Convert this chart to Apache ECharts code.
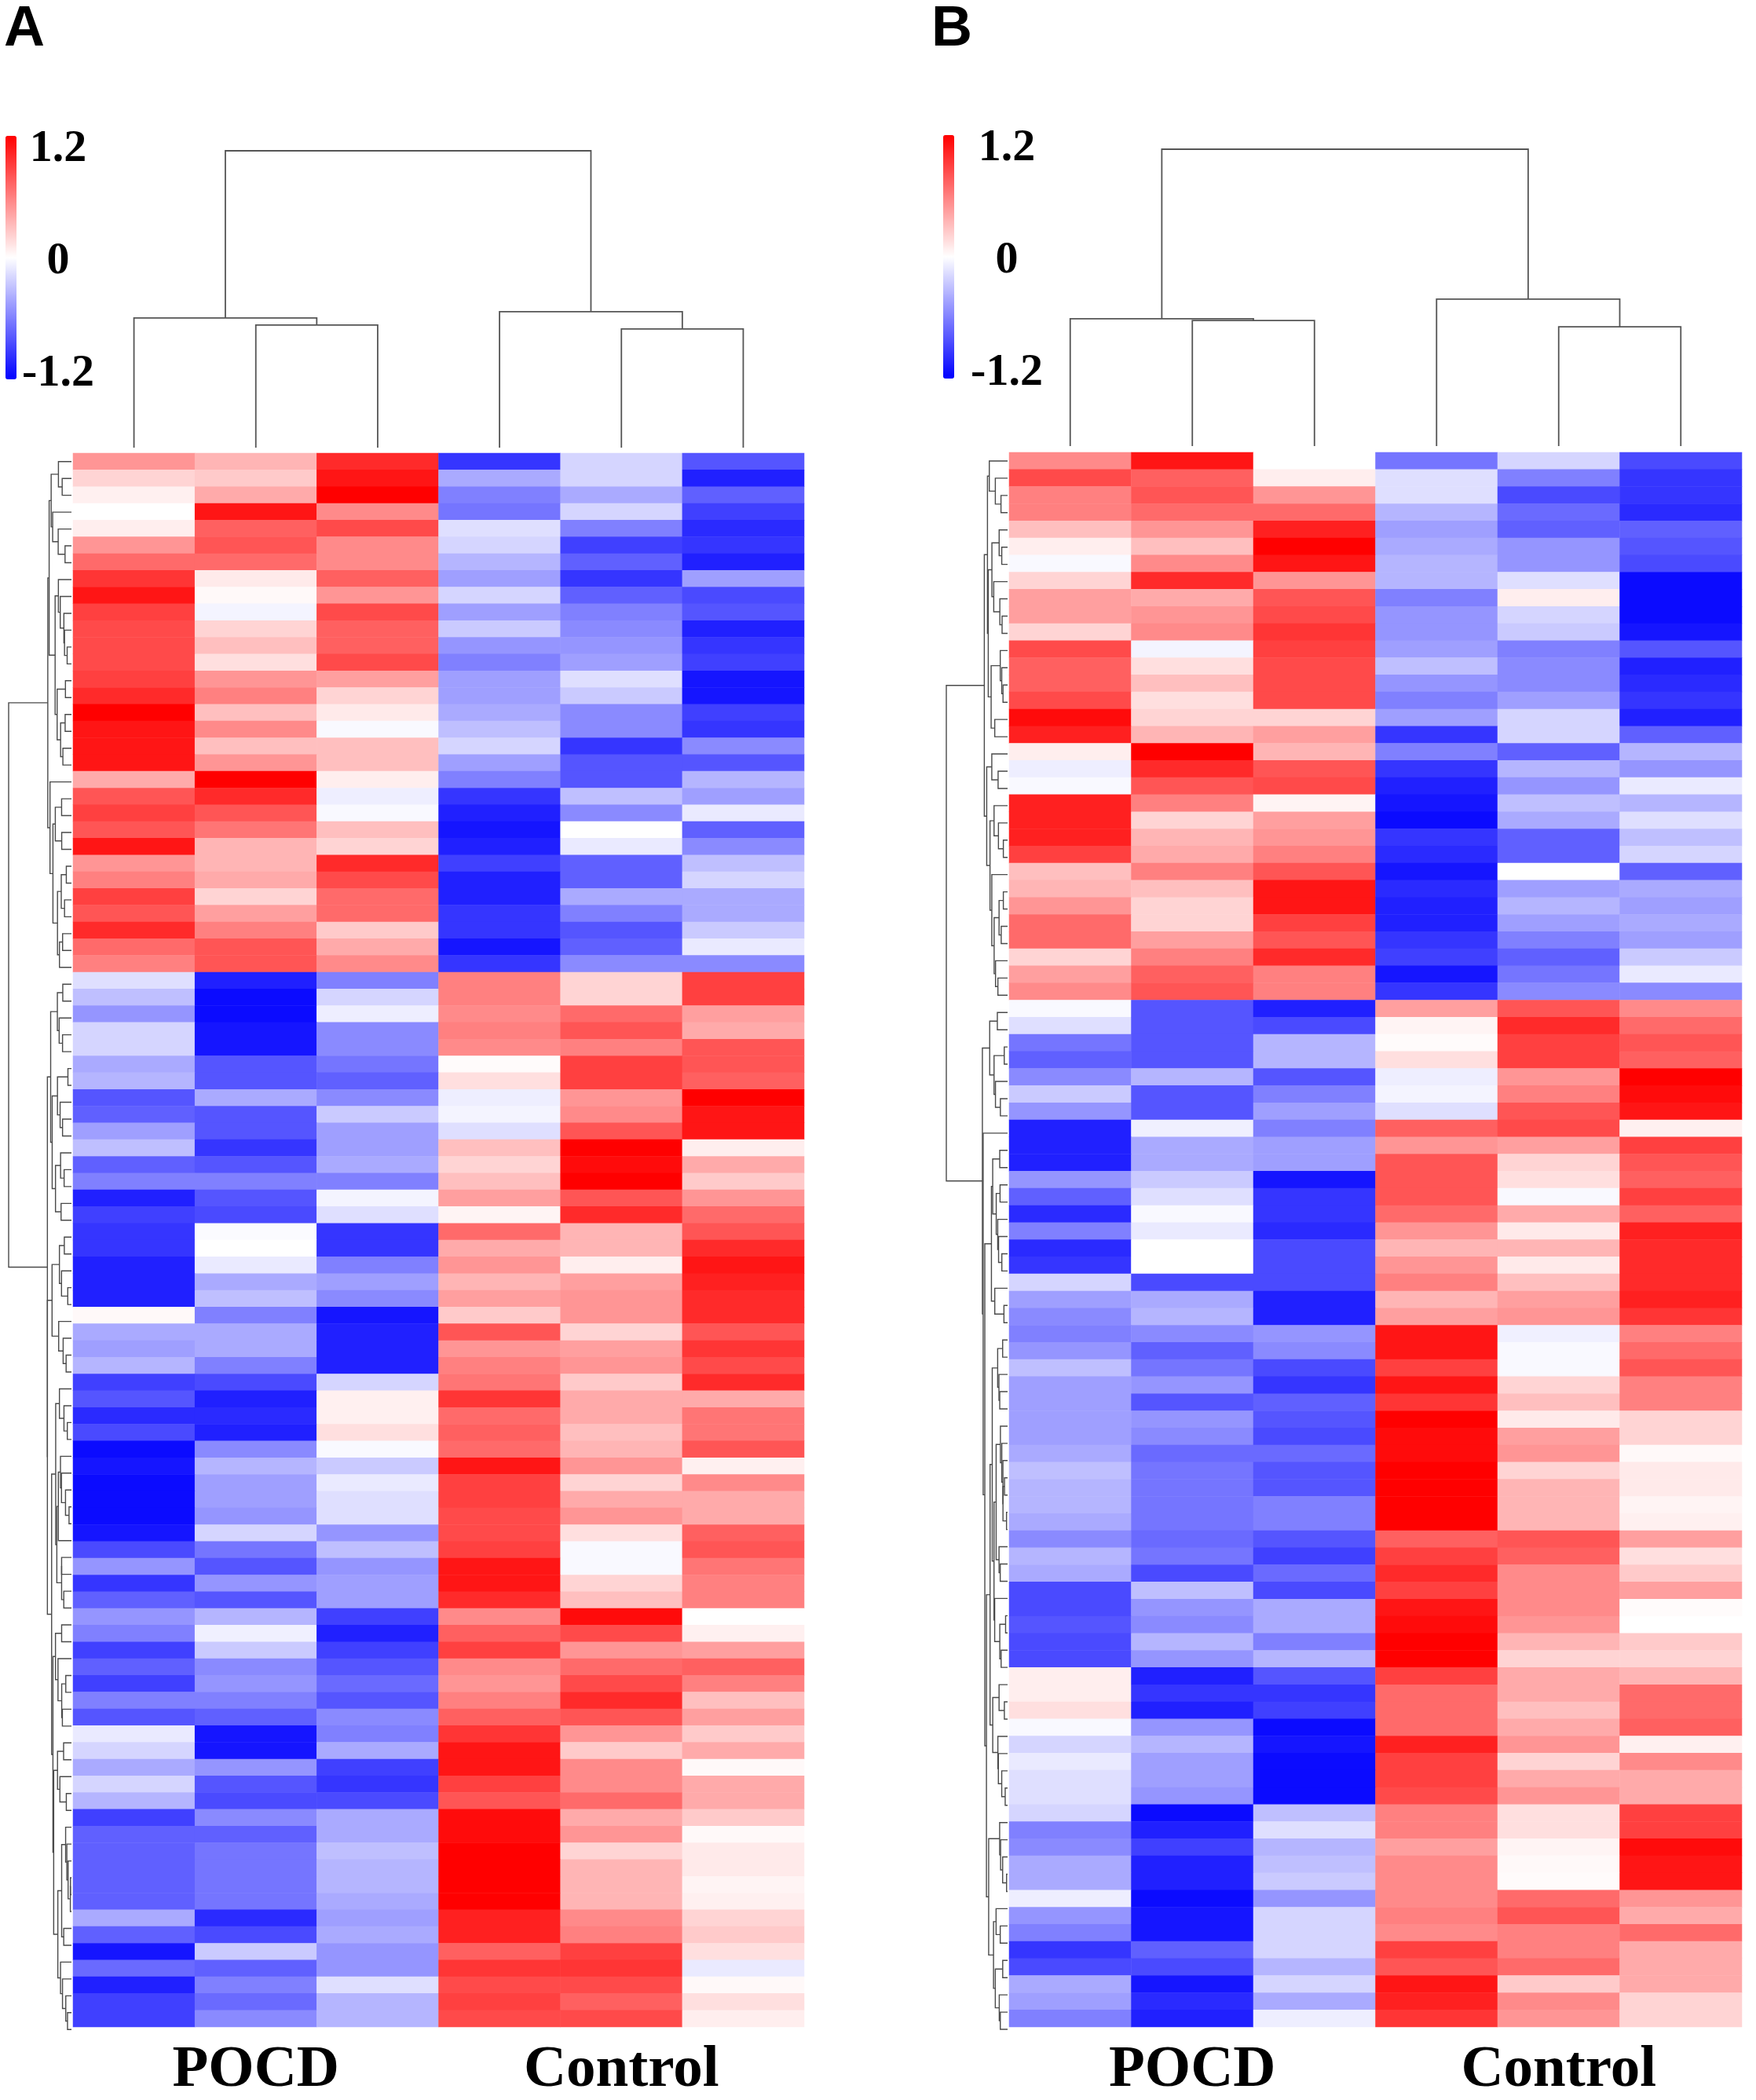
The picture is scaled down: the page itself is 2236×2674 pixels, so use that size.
<!DOCTYPE html>
<html>
<head>
<meta charset="utf-8">
<script src="https://cdn.jsdelivr.net/npm/echarts@6/dist/echarts.min.js"></script>
<style>
  html, body { margin: 0; padding: 0; background: #fff; }
  #chart { width: 2236px; height: 2674px; }
</style>
</head>
<body>
<div id="chart"></div>
<script>
// 样本（列）与分组
var samples = ['POCD1', 'POCD2', 'POCD3', 'Control1', 'Control2', 'Control3'];
var groups = ['POCD', 'Control'];
// 色标刻度
var colorbarTicks = [-1.2, 0, 1.2];

// A 图 热图数值（每行 6 个样本）
var heatA = [
  [0.5,0.35,1.0,-0.95,-0.2,-0.8],
  [0.2,0.25,1.1,-0.4,-0.2,-1.05],
  [0.07,0.4,1.2,-0.6,-0.4,-0.75],
  [0,1.1,0.55,-0.65,-0.2,-0.9],
  [0.08,0.75,0.85,-0.15,-0.6,-1.0],
  [0.5,0.8,0.55,-0.2,-0.9,-0.95],
  [0.7,0.7,0.55,-0.35,-0.75,-1.05],
  [0.95,0.1,0.75,-0.45,-0.95,-0.45],
  [1.1,0.03,0.5,-0.2,-0.75,-0.85],
  [0.9,-0.05,0.85,-0.45,-0.6,-0.8],
  [0.85,0.2,0.75,-0.25,-0.55,-1.05],
  [0.85,0.3,0.75,-0.5,-0.5,-0.95],
  [0.85,0.15,0.85,-0.6,-0.45,-0.9],
  [0.9,0.5,0.45,-0.45,-0.15,-1.1],
  [1.0,0.6,0.2,-0.45,-0.25,-1.1],
  [1.2,0.3,0.1,-0.4,-0.55,-0.9],
  [1.1,0.55,-0.03,-0.3,-0.55,-0.95],
  [1.1,0.3,0.3,-0.2,-0.95,-0.55],
  [1.1,0.5,0.3,-0.45,-0.8,-0.8],
  [0.4,1.2,0.08,-0.6,-0.8,-0.35],
  [0.8,1.0,-0.08,-0.95,-0.3,-0.45],
  [0.9,0.8,-0.03,-1.05,-0.55,-0.1],
  [0.8,0.65,0.3,-1.1,0,-0.75],
  [1.1,0.35,0.2,-1.05,-0.1,-0.55],
  [0.5,0.35,1.0,-0.9,-0.75,-0.3],
  [0.6,0.4,0.85,-1.05,-0.75,-0.2],
  [0.9,0.2,0.7,-1.05,-0.4,-0.4],
  [0.8,0.45,0.7,-0.95,-0.6,-0.4],
  [1.0,0.6,0.25,-0.95,-0.8,-0.25],
  [0.7,0.8,0.4,-1.1,-0.75,-0.1],
  [0.6,0.8,0.55,-0.95,-0.55,-0.55],
  [-0.15,-1.05,-0.6,0.6,0.2,0.9],
  [-0.3,-1.15,-0.2,0.6,0.2,0.9],
  [-0.5,-1.15,-0.08,0.55,0.7,0.45],
  [-0.2,-1.1,-0.55,0.6,0.8,0.4],
  [-0.2,-1.1,-0.55,0.55,0.6,0.8],
  [-0.4,-0.8,-0.65,0.02,0.9,0.8],
  [-0.35,-0.8,-0.75,0.15,0.9,0.75],
  [-0.8,-0.4,-0.55,-0.08,0.5,1.2],
  [-0.75,-0.8,-0.25,-0.05,0.55,1.1],
  [-0.45,-0.8,-0.45,-0.15,0.8,1.1],
  [-0.3,-0.95,-0.45,0.3,1.2,0.08],
  [-0.75,-0.8,-0.4,0.2,1.15,0.4],
  [-0.6,-0.6,-0.6,0.3,1.2,0.25],
  [-1.05,-0.8,-0.05,0.45,0.8,0.5],
  [-0.9,-0.85,-0.15,0.05,1.0,0.7],
  [-0.95,-0.02,-0.95,0.7,0.35,0.8],
  [-0.95,0,-0.95,0.4,0.35,1.0],
  [-1.05,-0.1,-0.6,0.5,0.08,1.1],
  [-1.05,-0.4,-0.45,0.35,0.45,1.05],
  [-1.05,-0.3,-0.55,0.45,0.5,1.0],
  [0.03,-0.6,-1.1,0.25,0.5,1.0],
  [-0.4,-0.4,-1.05,0.8,0.2,0.8],
  [-0.45,-0.4,-1.05,0.5,0.45,0.95],
  [-0.35,-0.6,-1.05,0.6,0.5,0.85],
  [-0.9,-0.85,-0.2,0.65,0.25,1.0],
  [-0.8,-1.05,0.07,0.95,0.4,0.4],
  [-1.0,-1.0,0.07,0.7,0.4,0.65],
  [-0.85,-1.05,0.15,0.75,0.3,0.65],
  [-1.15,-0.55,-0.03,0.7,0.35,0.8],
  [-1.1,-0.35,-0.25,1.1,0.5,0.07],
  [-1.15,-0.45,-0.1,0.9,0.2,0.55],
  [-1.15,-0.45,-0.15,0.9,0.4,0.4],
  [-1.15,-0.5,-0.15,0.85,0.5,0.4],
  [-1.1,-0.2,-0.5,0.85,0.15,0.75],
  [-0.85,-0.65,-0.3,0.9,-0.03,0.8],
  [-0.5,-0.8,-0.5,1.1,-0.03,0.65],
  [-0.95,-0.5,-0.45,1.1,0.2,0.6],
  [-0.75,-0.8,-0.45,1.0,0.3,0.6],
  [-0.5,-0.35,-0.9,0.55,1.15,0],
  [-0.6,-0.07,-1.05,0.75,0.85,0.07],
  [-0.9,-0.25,-0.9,0.9,0.5,0.45],
  [-0.75,-0.55,-0.8,0.55,0.7,0.75],
  [-0.9,-0.5,-0.7,0.5,0.85,0.6],
  [-0.6,-0.6,-0.8,0.6,1.0,0.3],
  [-0.8,-0.75,-0.55,0.75,0.8,0.45],
  [-0.1,-1.1,-0.6,0.95,0.5,0.25],
  [-0.2,-1.1,-0.4,1.1,0.25,0.4],
  [-0.4,-0.5,-0.9,1.1,0.55,0.03],
  [-0.2,-0.8,-0.95,0.9,0.55,0.4],
  [-0.35,-0.85,-0.85,0.8,0.7,0.4],
  [-0.9,-0.55,-0.4,1.15,0.4,0.25],
  [-0.75,-0.75,-0.4,1.15,0.5,0.03],
  [-0.75,-0.65,-0.3,1.2,0.2,0.1],
  [-0.75,-0.65,-0.35,1.2,0.35,0.1],
  [-0.75,-0.65,-0.35,1.2,0.35,0.05],
  [-0.75,-0.65,-0.4,1.2,0.35,0.07],
  [-0.4,-1.0,-0.45,1.05,0.55,0.2],
  [-0.75,-0.85,-0.4,1.05,0.6,0.25],
  [-1.1,-0.25,-0.5,0.75,0.9,0.15],
  [-0.7,-0.75,-0.5,0.95,0.95,-0.1],
  [-1.05,-0.6,-0.15,0.85,0.85,0.03],
  [-0.9,-0.7,-0.35,0.9,0.75,0.15],
  [-0.9,-0.55,-0.35,0.85,0.85,0.08]
];

// B 图 热图数值
var heatB = [
  [0.55,1.1,0,-0.65,-0.2,-0.85],
  [0.85,0.75,0.08,-0.15,-0.6,-0.95],
  [0.6,0.8,0.5,-0.15,-0.85,-0.95],
  [0.6,0.7,0.7,-0.35,-0.7,-1.0],
  [0.3,0.5,1.05,-0.45,-0.75,-0.75],
  [0.08,0.3,1.2,-0.4,-0.5,-0.8],
  [-0.03,0.55,1.1,-0.35,-0.5,-0.85],
  [0.2,1.0,0.5,-0.35,-0.15,-1.15],
  [0.45,0.4,0.8,-0.6,0.08,-1.15],
  [0.45,0.5,0.85,-0.5,-0.2,-1.15],
  [0.2,0.55,0.95,-0.5,-0.25,-1.1],
  [0.85,-0.05,0.9,-0.45,-0.6,-0.8],
  [0.75,0.15,0.85,-0.3,-0.55,-1.05],
  [0.75,0.3,0.85,-0.5,-0.55,-1.0],
  [0.85,0.15,0.85,-0.6,-0.45,-0.95],
  [1.15,0.2,0.2,-0.45,-0.2,-1.05],
  [1.05,0.35,0.45,-0.95,-0.2,-0.75],
  [0.08,1.2,0.35,-0.6,-0.75,-0.35],
  [-0.08,1.0,0.8,-0.95,-0.35,-0.5],
  [-0.03,0.8,0.85,-1.05,-0.5,-0.1],
  [1.05,0.6,0.05,-1.1,-0.3,-0.35],
  [1.05,0.2,0.45,-1.15,-0.4,-0.15],
  [1.05,0.35,0.5,-0.95,-0.75,-0.3],
  [0.9,0.4,0.6,-1.0,-0.75,-0.2],
  [0.3,0.6,0.8,-1.1,0,-0.75],
  [0.35,0.3,1.1,-1.0,-0.45,-0.4],
  [0.5,0.2,1.1,-1.05,-0.35,-0.45],
  [0.7,0.2,0.9,-1.05,-0.45,-0.4],
  [0.7,0.45,0.8,-0.95,-0.6,-0.45],
  [0.2,0.6,1.0,-0.9,-0.75,-0.25],
  [0.45,0.75,0.6,-1.1,-0.65,-0.1],
  [0.55,0.8,0.6,-0.95,-0.55,-0.55],
  [-0.03,-0.8,-1.05,0.45,0.8,0.55],
  [-0.15,-0.8,-0.85,0.05,1.0,0.7],
  [-0.65,-0.8,-0.35,0.02,0.9,0.8],
  [-0.75,-0.8,-0.35,0.15,0.9,0.75],
  [-0.55,-0.35,-0.8,-0.08,0.5,1.2],
  [-0.25,-0.8,-0.6,-0.05,0.6,1.15],
  [-0.5,-0.8,-0.45,-0.15,0.8,1.1],
  [-1.05,-0.07,-0.6,0.75,0.85,0.07],
  [-1.05,-0.4,-0.45,0.5,0.45,0.9],
  [-1.05,-0.4,-0.45,0.8,0.2,0.8],
  [-0.5,-0.25,-1.1,0.8,0.15,0.75],
  [-0.75,-0.15,-0.95,0.8,-0.03,0.9],
  [-1.0,-0.03,-0.95,0.7,0.4,0.75],
  [-0.6,-0.1,-1.0,0.5,0.1,1.05],
  [-1.0,0,-0.85,0.35,0.35,1.0],
  [-0.95,0,-0.85,0.5,0.1,1.0],
  [-0.2,-0.85,-0.85,0.6,0.3,1.0],
  [-0.45,-0.4,-1.05,0.35,0.45,1.05],
  [-0.55,-0.35,-1.05,0.45,0.5,0.95],
  [-0.6,-0.55,-0.5,1.1,-0.07,0.6],
  [-0.5,-0.75,-0.55,1.1,-0.03,0.7],
  [-0.3,-0.65,-0.85,0.9,-0.03,0.8],
  [-0.45,-0.5,-0.95,1.1,0.2,0.6],
  [-0.45,-0.8,-0.75,0.95,0.3,0.6],
  [-0.45,-0.5,-0.8,1.2,0.1,0.2],
  [-0.45,-0.55,-0.85,1.15,0.45,0.2],
  [-0.4,-0.7,-0.7,1.15,0.5,0.03],
  [-0.3,-0.65,-0.8,1.2,0.2,0.1],
  [-0.35,-0.65,-0.8,1.2,0.35,0.1],
  [-0.35,-0.65,-0.6,1.2,0.35,0.05],
  [-0.4,-0.65,-0.6,1.2,0.35,0.07],
  [-0.55,-0.7,-0.8,0.75,0.8,0.45],
  [-0.35,-0.65,-0.9,0.9,0.75,0.15],
  [-0.4,-0.85,-0.7,1.0,0.55,0.25],
  [-0.85,-0.3,-0.85,0.9,0.55,0.45],
  [-0.85,-0.5,-0.4,1.1,0.55,0.02],
  [-0.8,-0.55,-0.4,1.15,0.5,0],
  [-0.85,-0.35,-0.6,1.2,0.35,0.25],
  [-0.85,-0.5,-0.35,1.2,0.2,0.2],
  [0.08,-1.05,-0.8,0.9,0.4,0.35],
  [0.08,-0.95,-0.95,0.7,0.4,0.7],
  [0.15,-1.05,-0.9,0.7,0.3,0.7],
  [-0.03,-0.5,-1.15,0.7,0.4,0.75],
  [-0.2,-0.35,-1.1,1.05,0.5,0.07],
  [-0.1,-0.45,-1.15,0.9,0.2,0.55],
  [-0.15,-0.45,-1.15,0.9,0.4,0.4],
  [-0.15,-0.5,-1.15,0.85,0.5,0.4],
  [-0.2,-1.15,-0.3,0.6,0.15,0.9],
  [-0.6,-1.05,-0.15,0.6,0.15,0.9],
  [-0.55,-0.9,-0.35,0.45,0.05,1.15],
  [-0.4,-1.05,-0.3,0.55,0.03,1.1],
  [-0.4,-1.05,-0.25,0.55,0.02,1.1],
  [-0.08,-1.15,-0.5,0.55,0.7,0.5],
  [-0.5,-1.1,-0.2,0.6,0.8,0.4],
  [-0.6,-1.1,-0.2,0.55,0.6,0.7],
  [-0.95,-0.75,-0.2,0.9,0.6,0.4],
  [-0.85,-0.85,-0.35,0.8,0.7,0.4],
  [-0.4,-1.1,-0.2,1.1,0.25,0.4],
  [-0.45,-1.0,-0.4,1.05,0.55,0.2],
  [-0.6,-1.05,-0.08,0.95,0.5,0.2]
];

// 列聚类（hclust 风格 merge：负数为样本，正数为前面的合并步骤）
var colMergeA = [[-2, -3], [-5, -6], [-1, 1], [-4, 2], [3, 4]];
var colHeightA = [4.13, 4.0, 4.37, 4.58, 10];
var colMergeB = [[-2, -3], [-5, -6], [-1, 1], [-4, 2], [3, 4]];
var colHeightB = [4.23, 4.02, 4.29, 4.95, 10];

var serifFont = '"Liberation Serif", "Times New Roman", serif';

// 热图数据 [列, 行, 值]
function toHeatData(rows) {
  var out = [];
  for (var r = 0; r < rows.length; r++) {
    for (var c = 0; c < rows[r].length; c++) {
      out.push([c, r, rows[r][c]]);
    }
  }
  return out;
}

function rowNames(prefix, n) {
  var names = [];
  for (var i = 0; i < n; i++) names.push(prefix + (i + 1));
  return names;
}

// 行聚类：只合并相邻簇（保持行顺序），平均连接 + 欧氏距离
function rowTree(rows) {
  var n = rows.length;
  var d = [];
  for (var i = 0; i < n; i++) {
    d.push([]);
    for (var j = 0; j < n; j++) {
      var s = 0;
      for (var k = 0; k < rows[i].length; k++) {
        s += Math.pow(rows[i][k] - rows[j][k], 2);
      }
      d[i].push(Math.sqrt(s));
    }
  }
  var clusters = [];
  for (var i = 0; i < n; i++) clusters.push({ members: [i], pos: i, h: 0 });
  var segs = [];
  while (clusters.length > 1) {
    var best = 0, bestD = Infinity;
    for (var k = 0; k < clusters.length - 1; k++) {
      var a = clusters[k].members, b = clusters[k + 1].members, sum = 0;
      for (var p = 0; p < a.length; p++) {
        for (var q = 0; q < b.length; q++) sum += d[a[p]][b[q]];
      }
      var avg = sum / (a.length * b.length);
      if (avg < bestD) { bestD = avg; best = k; }
    }
    var L = clusters[best], R = clusters[best + 1];
    var h = Math.max(bestD, L.h, R.h);
    segs.push([L.h, L.pos, h, R.pos, R.h]);
    clusters.splice(best, 2, { members: L.members.concat(R.members), pos: (L.pos + R.pos) / 2, h: h });
  }
  return { segs: segs, top: clusters[0].h };
}

// 列聚类树 -> 折线段
function colTree(merge, heights) {
  var nodes = [];
  function info(id) {
    if (id < 0) return { pos: -id - 1, h: 0 };
    return nodes[id - 1];
  }
  var segs = [];
  for (var i = 0; i < merge.length; i++) {
    var L = info(merge[i][0]), R = info(merge[i][1]);
    segs.push([L.pos, L.h, heights[i], R.pos, R.h]);
    nodes.push({ pos: (L.pos + R.pos) / 2, h: heights[i] });
  }
  return segs;
}

function renderRowElbow(params, api) {
  var a = api.coord([api.value(0), api.value(1)]);
  var b = api.coord([api.value(2), api.value(1)]);
  var c = api.coord([api.value(2), api.value(3)]);
  var e = api.coord([api.value(4), api.value(3)]);
  return {
    type: 'polyline',
    shape: { points: [a, b, c, e] },
    style: { stroke: '#4a4a4a', lineWidth: 1.4, fill: null }
  };
}

function renderColElbow(params, api) {
  var a = api.coord([api.value(0), api.value(1)]);
  var b = api.coord([api.value(0), api.value(2)]);
  var c = api.coord([api.value(3), api.value(2)]);
  var e = api.coord([api.value(3), api.value(4)]);
  return {
    type: 'polyline',
    shape: { points: [a, b, c, e] },
    style: { stroke: '#555', lineWidth: 1.8, fill: null }
  };
}

var treeA = rowTree(heatA);
var treeB = rowTree(heatB);

// 两个面板的布局
var panels = [
  { rows: heatA, tree: treeA, cols: colTree(colMergeA, colHeightA), name: 'A',
    heat: { left: 93, top: 577, width: 931, height: 2018 },
    rowDen: { left: 11, top: 577, width: 80, height: 2018 },
    colDen: { left: 93, top: 192, width: 931, height: 378 },
    bar: { left: 7, top: 173 }, barLabelX: 74 },
  { rows: heatB, tree: treeB, cols: colTree(colMergeB, colHeightB), name: 'B',
    heat: { left: 1285, top: 576, width: 933, height: 2019 },
    rowDen: { left: 1205, top: 576, width: 78, height: 2019 },
    colDen: { left: 1285, top: 190, width: 933, height: 378 },
    bar: { left: 1201, top: 172 }, barLabelX: 1282 }
];

var grid = [], xAxis = [], yAxis = [], series = [], visualMap = [];

panels.forEach(function (p, idx) {
  var g0 = grid.length;
  grid.push(p.heat, p.rowDen, p.colDen,
    { left: p.barLabelX, top: p.bar.top + 17, width: 1, height: 286 });

  var x0 = xAxis.length, y0 = yAxis.length;
  // 热图坐标轴
  xAxis.push({ type: 'category', gridIndex: g0, data: samples, show: false });
  xAxis.push({
    type: 'category', gridIndex: g0, data: groups, position: 'bottom',
    axisLine: { show: false }, axisTick: { show: false }, splitLine: { show: false },
    axisLabel: { interval: 0, margin: 18, color: '#000', fontFamily: serifFont,
      fontWeight: 'bold', fontSize: 75 }
  });
  yAxis.push({ type: 'category', gridIndex: g0, data: rowNames(p.name, p.rows.length),
    inverse: true, show: false });
  // 行聚类树坐标轴
  xAxis.push({ type: 'value', gridIndex: g0 + 1, min: 0, max: p.tree.top, inverse: true, show: false });
  yAxis.push({ type: 'value', gridIndex: g0 + 1, min: -0.5, max: p.rows.length - 0.5,
    inverse: true, show: false });
  // 列聚类树坐标轴
  xAxis.push({ type: 'value', gridIndex: g0 + 2, min: -0.5, max: samples.length - 0.5, show: false });
  yAxis.push({ type: 'value', gridIndex: g0 + 2, min: 0, max: 10, show: false });
  // 色标刻度
  xAxis.push({ type: 'value', gridIndex: g0 + 3, show: false });
  yAxis.push({
    type: 'value', gridIndex: g0 + 3, min: colorbarTicks[0], max: colorbarTicks[2],
    interval: colorbarTicks[1] - colorbarTicks[0],
    axisLine: { show: false }, axisTick: { show: false }, splitLine: { show: false },
    axisLabel: { margin: 0, align: 'center', color: '#000', fontFamily: serifFont,
      fontWeight: 'bold', fontSize: 58,
      formatter: function (v) { return Math.abs(v) < 1e-9 ? '0' : String(v); } }
  });

  var sHeat = series.length;
  series.push({
    type: 'heatmap', xAxisIndex: x0, yAxisIndex: y0,
    data: toHeatData(p.rows),
    itemStyle: { borderWidth: 0 },
    emphasis: { disabled: true },
    progressive: 0
  });
  series.push({
    type: 'custom', xAxisIndex: x0 + 2, yAxisIndex: y0 + 1,
    renderItem: renderRowElbow, data: p.tree.segs, silent: true
  });
  series.push({
    type: 'custom', xAxisIndex: x0 + 3, yAxisIndex: y0 + 2,
    renderItem: renderColElbow, data: p.cols, silent: true
  });

  visualMap.push({
    type: 'continuous', seriesIndex: sHeat,
    min: colorbarTicks[0], max: colorbarTicks[2],
    left: p.bar.left, top: p.bar.top, padding: 0,
    itemWidth: 14, itemHeight: 310,
    calculable: false, hoverLink: false,
    inRange: { color: ['#0000ff', '#ffffff', '#ff0000'] }
  });
});

var myChart = echarts.init(document.getElementById('chart'));
var option = {
  backgroundColor: '#ffffff',
  animation: false,
  title: [
    { text: 'A', left: 5, top: 2, padding: 0,
      textStyle: { fontFamily: '"Liberation Sans", Arial, sans-serif', fontWeight: 'bold', fontSize: 72, color: '#000' } },
    { text: 'B', left: 1186, top: 2, padding: 0,
      textStyle: { fontFamily: '"Liberation Sans", Arial, sans-serif', fontWeight: 'bold', fontSize: 72, color: '#000' } }
  ],
  grid: grid,
  xAxis: xAxis,
  yAxis: yAxis,
  visualMap: visualMap,
  series: series
};
myChart.setOption(option, true);
</script>
</body>
</html>
